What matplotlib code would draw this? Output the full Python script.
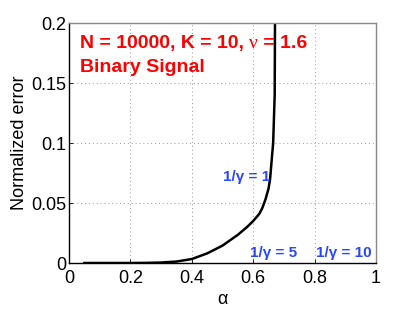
import matplotlib
matplotlib.use("Agg")
import matplotlib.pyplot as plt

alpha = [0.05, 0.1, 0.15, 0.2, 0.25, 0.3, 0.35, 0.4, 0.45, 0.5, 0.55, 0.58, 0.6, 0.62, 0.63, 0.64, 0.65, 0.655, 0.66, 0.665, 0.67, 0.671]
error = [0.0, 0.0, 0.0, 0.0, 0.0001, 0.0004, 0.0012, 0.0033, 0.008, 0.0145, 0.0235, 0.030, 0.035, 0.041, 0.046, 0.053, 0.062, 0.07, 0.085, 0.1, 0.14, 0.2]

xticks = [0, 0.2, 0.4, 0.6, 0.8, 1]
xticklabels = ["0", "0.2", "0.4", "0.6", "0.8", "1"]
yticks = [0, 0.05, 0.1, 0.15, 0.2]
yticklabels = ["0", "0.05", "0.1", "0.15", "0.2"]

plt.rcParams['font.family'] = ['Liberation Sans', 'DejaVu Sans']

fig = plt.figure(figsize=(4.15, 3.09), dpi=100)
ax = fig.add_axes([69/415, 1-263/309, (376-69)/415, (263-23)/309])

ax.plot(alpha, error, color='black', lw=1.8)
ax.set_xlim(0, 1)
ax.set_ylim(0, 0.2)
ax.set_xticks(xticks)
ax.set_xticklabels(xticklabels)
ax.set_yticks(yticks)
ax.set_yticklabels(yticklabels)
ax.tick_params(direction='in', labelsize=13, length=3, width=0.6, top=False, right=False)
ax.tick_params(axis='x', pad=5)
ax.tick_params(axis='y', pad=2)
ax.grid(True, linestyle=(0, (1, 3)), color='#999999', lw=0.7)
for s in ['top', 'right']:
    ax.spines[s].set_color('#888888')
for s in ax.spines.values():
    s.set_linewidth(1.0)
ax.set_xlabel('α', fontsize=13, labelpad=3)
ax.set_ylabel('Normalized error', fontsize=13, labelpad=2)

red = '#ff0000'
t1 = ax.text(0.036, 0.179, 'N = 10000, K = 10, ', color=red, fontsize=14,
             fontweight='bold', va='baseline', ha='left')
fig.canvas.draw()
t2 = ax.annotate('ν', xy=(1, 0), xycoords=t1, va='bottom', ha='left',
                 color=red, fontsize=14, family='Liberation Serif')
t3 = ax.annotate(' = 1.6', xy=(1, 0), xycoords=t2, va='bottom', ha='left',
                 color=red, fontsize=14, fontweight='bold')
ax.text(0.036, 0.159, 'Binary Signal', color=red, fontsize=14, fontweight='bold',
        va='baseline', ha='left')

blue = '#2a46ff'
ax.text(0.50, 0.0715, '1/γ = 1', color=blue, fontsize=11, fontweight='bold', va='center', ha='left')
ax.text(0.589, 0.008, '1/γ = 5', color=blue, fontsize=11, fontweight='bold', va='center', ha='left')
ax.text(0.806, 0.008, '1/γ = 10', color=blue, fontsize=11, fontweight='bold', va='center', ha='left')

fig.savefig('out.png', dpi=100)
